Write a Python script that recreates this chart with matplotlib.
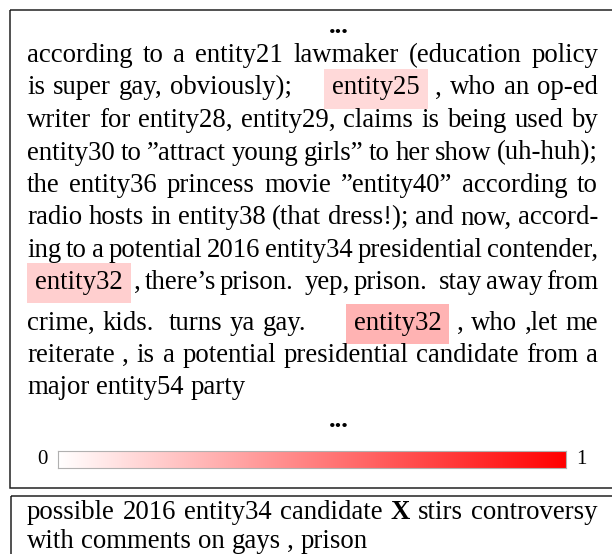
import numpy as np
import matplotlib
matplotlib.use("Agg")
import matplotlib.pyplot as plt
from matplotlib.colors import LinearSegmentedColormap
from matplotlib.patches import Rectangle

# --------------------------------------------------------------------------
# the content: article (as it wraps in the reference) and summary
# --------------------------------------------------------------------------

ARTICLE_LINES = [
    "according to a entity21 lawmaker (education policy",
    "is super gay, obviously); entity25 , who an op-ed",
    "writer for entity28, entity29, claims is being used by",
    "entity30 to \u201dattract young girls\u201d to her show (uh-huh);",
    "the entity36 princess movie \u201dentity40\u201d according to",
    "radio hosts in entity38 (that dress!); and now, accord-",
    "ing to a potential 2016 entity34 presidential contender,",
    "entity32 , there\u2019s prison. yep, prison. stay away from",
    "crime, kids. turns ya gay. entity32 , who ,let me",
    "reiterate , is a potential presidential candidate from a",
    "major entity54 party",
]
# attention weight of the highlighted words: (line, word) -> weight
HIGHLIGHTS = {(1, 4): 0.15, (7, 0): 0.19, (8, 5): 0.30}

SUMMARY_LINES = [
    "possible 2016 entity34 candidate X stirs controversy",
    "with comments on gays , prison",
]
SUMMARY_BOLD = ["X"]

CBAR_LABELS = ["0", "1"]

# --------------------------------------------------------------------------
# layout (pixels, measured off the reference)
# --------------------------------------------------------------------------

W, H = 612, 554
FONT = "Liberation Serif"
SIZE = 19.3                # pt at dpi 100 -> ~27 px
LEFT, RIGHT = 27, 598
ART_BASE = [62, 94.5, 127, 159.5, 192, 224.5, 257, 289, 330, 362, 394]
SUM_BASE = [519, 548]
DOTS_TOP, DOTS_BOT, DOTS_X = 33, 427, 339
PAD = 8                    # colorbox padding
HL_GAP = 24                # extra blank in front of a highlighted word
SENT_GAP = 8               # extra space after a full stop
SPACE = 6.7

cmap = LinearSegmentedColormap.from_list("att", ["#ffffff", "#ff0000"])

fig = plt.figure(figsize=(W / 100, H / 100), dpi=100)
ax = fig.add_axes([0, 0, 1, 1])
ax.set_xlim(0, W)
ax.set_ylim(H, 0)
ax.axis("off")
renderer = fig.canvas.get_renderer()


def draw_line(words, base, justify, weights=None, bold=()):
    weights = weights or {}
    texts, widths = [], []
    for i, w in enumerate(words):
        t = ax.text(0, base, w, fontfamily=FONT, fontsize=SIZE, va="baseline",
                    fontweight="bold" if w in bold else "normal", zorder=3)
        texts.append(t)
        wd = t.get_window_extent(renderer).width
        if i in weights:
            wd += 2 * PAD
        widths.append(wd)

    extras = [0.0]
    for i in range(1, len(words)):
        e = 0.0
        if i in weights:
            e += HL_GAP
        if words[i - 1].endswith((".", "!")):
            e += SENT_GAP
        extras.append(e)

    if justify and len(words) > 1:
        gap = (RIGHT - LEFT - sum(widths) - sum(extras)) / (len(words) - 1)
    else:
        gap = SPACE

    x = LEFT
    for i, t in enumerate(texts):
        if i > 0:
            x += gap + extras[i]
        if i in weights:
            ax.add_patch(Rectangle((x, base - 26), widths[i], 40,
                                   facecolor=cmap(weights[i]), edgecolor="none",
                                   zorder=2))
            t.set_x(x + PAD)
        else:
            t.set_x(x)
        x += widths[i]


# frames
ax.add_patch(Rectangle((10, 10), 700, 478, fill=False, lw=1.1,
                       edgecolor="#222222", zorder=4))
ax.add_patch(Rectangle((10.5, 496), 700, 100, fill=False, lw=1.1,
                       edgecolor="#222222", zorder=4))

# article
ax.text(DOTS_X, DOTS_TOP, "...", fontfamily=FONT, fontsize=SIZE,
        fontweight="bold", ha="center", va="baseline")
for li, line in enumerate(ARTICLE_LINES):
    wts = {wi: v for (l, wi), v in HIGHLIGHTS.items() if l == li}
    draw_line(line.split(), ART_BASE[li], li < len(ARTICLE_LINES) - 1, wts)
ax.text(DOTS_X, DOTS_BOT, "...", fontfamily=FONT, fontsize=SIZE,
        fontweight="bold", ha="center", va="baseline")

# colour scale
cb_l, cb_r, cb_t, cb_b = 58, 566, 451, 468
cax = fig.add_axes([cb_l / W, 1 - cb_b / H, (cb_r - cb_l) / W, (cb_b - cb_t) / H])
cax.imshow(np.linspace(0, 1, 256)[None, :], cmap=cmap, aspect="auto")
cax.set_xticks([])
cax.set_yticks([])
for s in cax.spines.values():
    s.set_edgecolor("#b0b0b0")
    s.set_linewidth(0.8)
ax.text(cb_l - 10, (cb_t + cb_b) / 2, CBAR_LABELS[0], fontfamily=FONT,
        fontsize=15, ha="right", va="center")
ax.text(cb_r + 10, (cb_t + cb_b) / 2, CBAR_LABELS[1], fontfamily=FONT,
        fontsize=15, ha="left", va="center")

# summary
for li, line in enumerate(SUMMARY_LINES):
    draw_line(line.split(), SUM_BASE[li], li < len(SUMMARY_LINES) - 1,
              bold=SUMMARY_BOLD)

fig.savefig("out.png", dpi=100)
